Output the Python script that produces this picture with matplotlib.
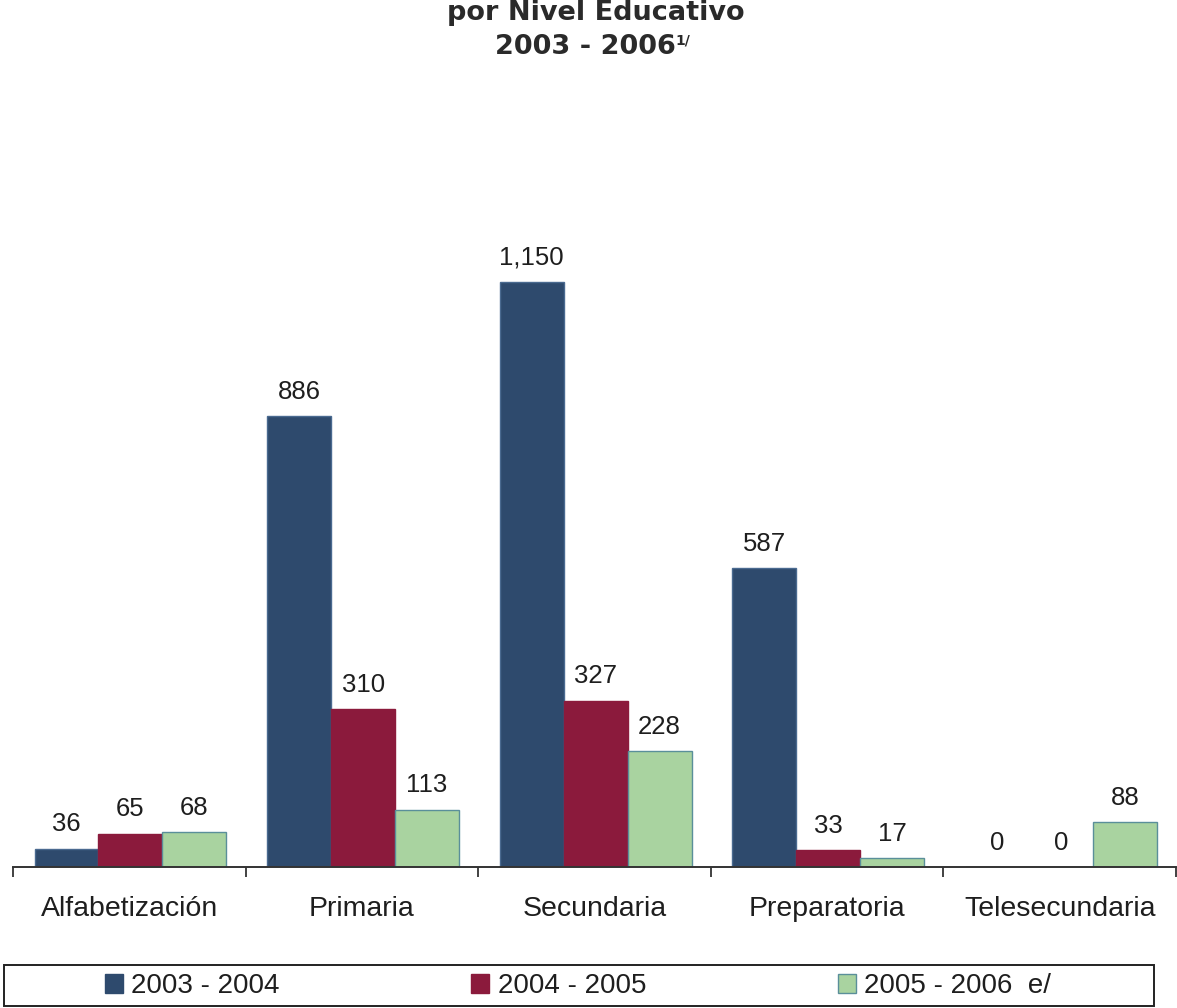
import matplotlib
matplotlib.use("Agg")
import matplotlib.pyplot as plt
from matplotlib.patches import Rectangle, Patch
import numpy as np

categories = ["Alfabetización", "Primaria", "Secundaria", "Preparatoria", "Telesecundaria"]
series_names = ["2003 - 2004", "2004 - 2005", "2005 - 2006  e/"]
v_2003_2004 = [36, 886, 1150, 587, 0]
v_2004_2005 = [65, 310, 327, 33, 0]
v_2005_2006 = [68, 113, 228, 17, 88]
value_labels = [
    ["36", "886", "1,150", "587", "0"],
    ["65", "310", "327", "33", "0"],
    ["68", "113", "228", "17", "88"],
]
title_line1 = "por Nivel Educativo"
title_line2 = "2003 - 2006"
title_sup = "1/"

colors = ["#2e4a6d", "#8b1a3c", "#a9d3a0"]
edges = ["#4a6a90", "#8b1a3c", "#5a8f9a"]

W, H = 1177, 1008
fig = plt.figure(figsize=(W / 100, H / 100), dpi=100)
fig.patch.set_facecolor("white")

def fx(px):
    return px / W

def fy(py):
    return 1 - py / H

# axes placement (pixels)
ax_left, ax_right, ax_bottom, ax_top = 13, 1176, 867, 100
ax = fig.add_axes([fx(ax_left), fy(ax_bottom), (ax_right - ax_left) / W, (ax_bottom - ax_top) / H])
ax.set_facecolor("none")

px_per_unit = (867 - 282) / 1150.0
ax.set_ylim(0, (ax_bottom - ax_top) / px_per_unit)
ax.set_xlim(-0.5, len(categories) - 0.5)

x = np.arange(len(categories))
width = 0.275
offsets = [-0.27, 0.005, 0.28]
all_series = [v_2003_2004, v_2004_2005, v_2005_2006]

for i, vals in enumerate(all_series):
    bars = ax.bar(x + offsets[i], vals, width, color=colors[i], edgecolor=edges[i],
                  linewidth=1.0, zorder=2)
    for j, b in enumerate(bars):
        ax.annotate(value_labels[i][j], (b.get_x() + b.get_width() / 2, b.get_height()),
                    xytext=(0, 9), textcoords="offset points", ha="center", va="bottom",
                    fontsize=18.5, color="#1e1e1e", family="Liberation Sans")

for s in ["top", "right", "left"]:
    ax.spines[s].set_visible(False)
ax.spines["bottom"].set_color("#333333")
ax.spines["bottom"].set_linewidth(1.4)
ax.set_yticks([])
ax.set_xticks(x)
ax.set_xticklabels(categories, fontsize=20.5, color="#1e1e1e", family="Liberation Sans")
ax.tick_params(axis="x", which="major", length=0, pad=21)
ax.set_xticks(np.arange(-0.5, len(categories)), minor=True)
ax.tick_params(axis="x", which="minor", length=7, width=1.3, color="#333333", direction="out")

# title
fig.text(fx(596), fy(20), title_line1, ha="center", va="baseline", fontsize=19.5,
         fontweight="bold", color="#2a2a2a", family="DejaVu Sans")
fig.text(fx(585), fy(54), title_line2, ha="center", va="baseline", fontsize=19.5,
         fontweight="bold", color="#2a2a2a", family="DejaVu Sans")
fig.text(fx(675), fy(44), title_sup, ha="left", va="baseline", fontsize=10,
         fontweight="bold", color="#2a2a2a", family="DejaVu Sans")

# legend frame
fig.patches.append(Rectangle((fx(4), fy(1006)), (1154 - 4) / W, (1006 - 965) / H,
                             transform=fig.transFigure, facecolor="white",
                             edgecolor="#222222", linewidth=1.4, zorder=0))
handles = [Patch(facecolor=colors[i], edgecolor=edges[i] if i == 2 else colors[i], linewidth=1)
           for i in range(3)]
leg = fig.legend(handles, series_names, ncol=3, loc="center",
                 bbox_to_anchor=(fx(578), fy(986)), frameon=False,
                 prop={"family": "Liberation Sans", "size": 20},
                 handlelength=0.65, handleheight=0.65, handletextpad=0.3,
                 columnspacing=6.9, borderpad=0.1)
for t in leg.get_texts():
    t.set_color("#1e1e1e")

fig.savefig("out.png", dpi=100, facecolor="white")
